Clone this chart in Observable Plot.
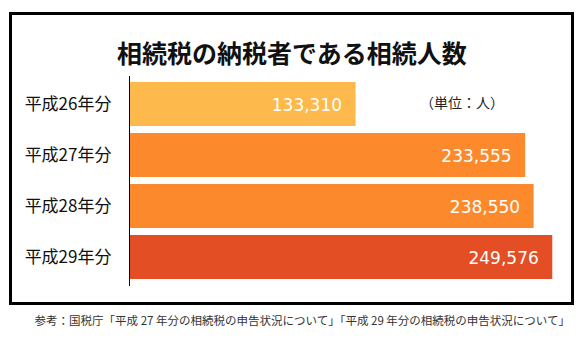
<!DOCTYPE html>
<html><head><meta charset="utf-8">
<script src="https://cdn.jsdelivr.net/npm/d3@7"></script>
<script src="https://cdn.jsdelivr.net/npm/@observablehq/plot@0.6"></script>
<style>
html,body{margin:0;padding:0;background:#fff;}
#wrap{position:relative;width:584px;height:342px;background:#fff;overflow:hidden;font-family:"Noto Sans CJK JP","Noto Sans",sans-serif;}
#box{position:absolute;left:9px;top:12px;width:559px;height:287px;border:3px solid #000;}
#title{position:absolute;left:0;width:584px;top:39px;line-height:26px;text-align:center;font-size:25px;font-weight:700;color:#111;white-space:nowrap;}
#unit{position:absolute;left:420px;top:92px;font-size:14px;line-height:20px;color:#222;white-space:nowrap;}
#chart{position:absolute;left:0;top:76px;}
#caption{position:absolute;right:14px;top:312px;font-size:11.5px;line-height:16px;color:#333;white-space:nowrap;}
</style></head>
<body>
<div id="wrap">
  <div id="box"></div>
  <div id="title">相続税の納税者である相続人数</div>
  <div id="chart"></div>
  <div id="unit">（単位：人）</div>
  <div id="caption">参考：国税庁「平成 27 年分の相続税の申告状況について」「平成 29 年分の相続税の申告状況について」</div>
</div>
<script>
const periods = ["平成26年分", "平成27年分", "平成28年分", "平成29年分"];
const counts = [133310, 233555, 238550, 249576];
const barColors = ["#FDB94B", "#FC8A2C", "#FC8A2C", "#E34E24"];

const data = periods.map((p, i) => ({period: p, count: counts[i]}));
const fmt = d3.format(",");

const chart = Plot.plot({
  width: 584,
  height: 210,
  marginLeft: 130,
  marginRight: 31,
  marginTop: 0,
  marginBottom: 0,
  style: {fontFamily: "'Noto Sans CJK JP', sans-serif", color: "#111", background: "transparent"},
  x: {domain: [0, 250000], axis: null},
  y: {domain: periods, paddingInner: 0.13, paddingOuter: 0.085, axis: null},
  color: {domain: periods, range: barColors},
  marks: [
    Plot.barX(data, {x: "count", y: "period", fill: "period"}),
    Plot.axisY({tickSize: 0, tickPadding: 19, fontSize: 17, label: null}),
    Plot.ruleX([0], {dx: -1, stroke: "#000", strokeWidth: 1}),
    Plot.text(data, {x: "count", y: "period", text: d => fmt(d.count), textAnchor: "end", dx: -14, dy: 1,
      fill: "#fff", fontSize: 17, fontFamily: "DejaVu Sans"})
  ]
});
document.getElementById("chart").appendChild(chart);
</script>
</body></html>
